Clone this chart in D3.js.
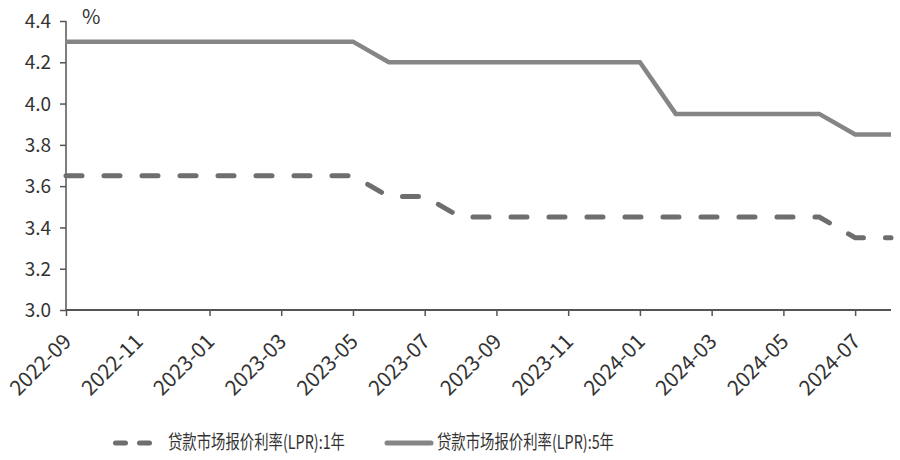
<!DOCTYPE html>
<html><head><meta charset="utf-8">
<script src="https://cdn.jsdelivr.net/npm/d3@7"></script>
<style>body{margin:0;background:#fff}svg{display:block}text{font-family:"Noto Sans CJK SC","Noto Sans",sans-serif;fill:#333}</style>
</head><body><svg id="c" width="900" height="460"></svg>
<script>
const months = ["2022-09","2022-10","2022-11","2022-12","2023-01","2023-02","2023-03","2023-04","2023-05","2023-06","2023-07","2023-08","2023-09","2023-10","2023-11","2023-12","2024-01","2024-02","2024-03","2024-04","2024-05","2024-06","2024-07","2024-08"];
const lpr1y = [3.65,3.65,3.65,3.65,3.65,3.65,3.65,3.65,3.65,3.55,3.55,3.45,3.45,3.45,3.45,3.45,3.45,3.45,3.45,3.45,3.45,3.45,3.35,3.35];
const lpr5y = [4.30,4.30,4.30,4.30,4.30,4.30,4.30,4.30,4.30,4.20,4.20,4.20,4.20,4.20,4.20,4.20,4.20,3.95,3.95,3.95,3.95,3.95,3.85,3.85];
const yTicks = [3.0,3.2,3.4,3.6,3.8,4.0,4.2,4.4];
const xTickLabels = months.filter((m,i)=>i%2===0);
const seriesNames = ["贷款市场报价利率(LPR):1年","贷款市场报价利率(LPR):5年"];

const svg = d3.select("#c");
const x = d3.scalePoint().domain(months).range([66, 891]);
const y = d3.scaleLinear().domain([3.0, 4.4]).range([310, 21]);
const axisColor = "#555";

// y axis
const ya = svg.append("g").attr("transform","translate(66,0)")
  .call(d3.axisLeft(y).tickValues(yTicks).tickFormat(d3.format(".1f")).tickSize(6).tickPadding(9));
ya.select(".domain").attr("stroke",axisColor).attr("stroke-width",1.5).attr("d","M0,21V310");
ya.selectAll(".tick line").attr("stroke",axisColor).attr("stroke-width",1.5);
ya.selectAll(".tick text").attr("font-size",19).attr("fill","#333").attr("dy","0.35em");

// x axis
const xa = svg.append("g").attr("transform","translate(0,310)")
  .call(d3.axisBottom(x).tickValues(xTickLabels).tickSize(6).tickSizeOuter(0));
xa.select(".domain").attr("stroke",axisColor).attr("stroke-width",2).attr("d","M66,0H891");
xa.selectAll(".tick line").attr("stroke",axisColor).attr("stroke-width",1.5);
xa.selectAll(".tick text").attr("font-size",21).attr("fill","#333")
  .attr("text-anchor","end").attr("dy",null).attr("y",0)
  .attr("textLength",76).attr("lengthAdjust","spacingAndGlyphs")
  .attr("transform","translate(6,33) rotate(-45)");

svg.append("text").attr("x",82).attr("y",24).attr("font-size",20).text("%");

const line = d3.line().x((d,i)=>x(months[i])).y(d=>y(d));
svg.append("path").datum(lpr5y).attr("d",line).attr("fill","none")
  .attr("stroke","#858585").attr("stroke-width",4.5);
svg.append("path").datum(lpr1y).attr("d",line).attr("fill","none")
  .attr("stroke","#6e6e6e").attr("stroke-width",5).attr("stroke-linecap","round")
  .attr("stroke-dasharray","16,22");

// legend
const lg = svg.append("g");
lg.append("line").attr("x1",115.5).attr("x2",151).attr("y1",443).attr("y2",443)
  .attr("stroke","#6e6e6e").attr("stroke-width",5).attr("stroke-linecap","round").attr("stroke-dasharray","10,14");
lg.append("text").attr("x",168).attr("y",449).attr("font-size",19)
  .attr("textLength",177).attr("lengthAdjust","spacingAndGlyphs").text(seriesNames[0]);
lg.append("line").attr("x1",387).attr("x2",431).attr("y1",443).attr("y2",443)
  .attr("stroke","#858585").attr("stroke-width",5).attr("stroke-linecap","round");
lg.append("text").attr("x",437).attr("y",449).attr("font-size",19)
  .attr("textLength",177).attr("lengthAdjust","spacingAndGlyphs").text(seriesNames[1]);
</script></body></html>
